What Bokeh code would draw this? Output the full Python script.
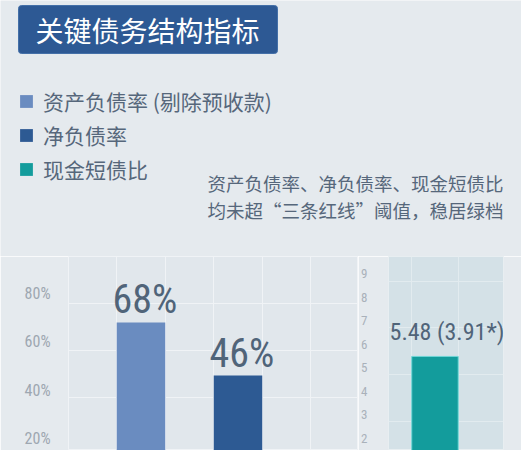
import numpy as np
from bokeh.plotting import figure
from bokeh.models import (Range1d, FixedTicker, PrintfTickFormatter, Label,
                          Legend, LegendItem, ColumnDataSource)
from bokeh.layouts import column, row
from bokeh.core.properties import value
from bokeh.embed import file_html
from bokeh.resources import INLINE

# ---------------- data ----------------
title_text = "关键债务结构指标"
metrics = ["资产负债率 (剔除预收款)", "净负债率", "现金短债比"]
metric_values = [68, 46, 5.48]          # % , % , times
cash_ratio_adjusted = 3.91              # value in brackets
pct_ticks = [20, 40, 60, 80]
ratio_ticks = [1, 2, 3, 4, 5, 6, 7, 8, 9]
note_lines = ["资产负债率、净负债率、现金短债比",
              "均未超“三条红线”阈值，稳居绿档"]

# ---------------- styles ----------------
colors = ["#6a8cc0", "#2d5a93", "#139c9c"]
page_bg = "#e5eaee"
panel_bg = "#e1e7ec"
right_panel_bg = "#d4e1e7"
grid_col = "#f0f3f6"
text_col = "#56677b"
value_col = "#506479"
tick_col = "#9ea7b1"
cjk = "Noto Sans CJK SC"
num_font = "Roboto Condensed"

# ---------------- header ----------------
header = figure(width=521, height=256, x_range=Range1d(0, 1), y_range=Range1d(0, 1),
                toolbar_location=None, output_backend="svg",
                x_axis_location=None, y_axis_location=None, min_border=0)
header.grid.visible = False
header.outline_line_color = None
header.background_fill_color = page_bg
header.border_fill_color = page_bg

header.add_layout(Label(x=18, y=227, x_units="screen", y_units="screen",
                        text=title_text, text_font=cjk, text_font_size="28px",
                        text_font_style="normal", text_color="white",
                        text_align="left", text_baseline="middle",
                        background_fill_color="#2d5994",
                        border_line_color="#4470a8", border_line_width=1,
                        padding=dict(left=17, right=18, top=4, bottom=4),
                        border_radius=3))

items = []
for m, c in zip(metrics, colors):
    r = header.vbar(x=[-10], top=[-10], width=1, fill_color=c, line_color=None)
    items.append(LegendItem(label=m, renderers=[r]))
legend = Legend(items=items, location=(18, 72), padding=0, margin=0,
                glyph_width=16, glyph_height=16, label_standoff=9,
                spacing=4, label_height=25,
                label_text_font=cjk, label_text_font_size="21px",
                label_text_color=text_col,
                background_fill_alpha=0, border_line_alpha=0)
header.add_layout(legend)

for i, line in enumerate(note_lines):
    header.add_layout(Label(x=503, y=74 - 27 * i, x_units="screen", y_units="screen",
                            text=line, text_font=cjk, text_font_size="18.5px",
                            text_color=text_col, text_align="right",
                            text_baseline="middle"))

# ---------------- left chart (percent) ----------------
left = figure(width=358, height=194, x_range=Range1d(-0.747, 2.242),
              y_range=Range1d(15.0, 95.3), toolbar_location=None,
              output_backend="svg", x_axis_location=None,
              min_border_left=68, min_border_right=0, min_border_top=0,
              min_border_bottom=0)
left.background_fill_color = panel_bg
left.border_fill_color = page_bg
left.outline_line_color = grid_col

lx = np.arange(2)
lsrc = ColumnDataSource(dict(x=lx, top=metric_values[:2], color=colors[:2],
                             label=[f"{v:g}%" for v in metric_values[:2]]))
left.vbar(x="x", top="top", bottom=0, width=0.5, fill_color="color",
          line_color=None, source=lsrc)
left.text(x="x", y="top", text="label", source=lsrc, text_font=value(num_font),
          text_font_size="40px", text_color=value_col, text_align="center",
          text_baseline="bottom", y_offset=1, x_offset=4)

ax = left.yaxis[0]
ax.ticker = FixedTicker(ticks=pct_ticks)
ax.formatter = PrintfTickFormatter(format="%d%%")
ax.axis_line_color = None
ax.major_tick_line_color = None
ax.minor_tick_line_color = None
ax.major_label_standoff = 12
ax.major_label_text_font = num_font
ax.major_label_text_font_size = "16px"
ax.major_label_text_color = tick_col
left.xgrid.ticker = FixedTicker(ticks=[-0.25, 0.25, 0.75, 1.25, 1.75])
left.ygrid.ticker = FixedTicker(ticks=[37, 56.5, 76])
left.grid.grid_line_color = grid_col
left.grid.grid_line_width = 1

# ---------------- right chart (times) ----------------
right = figure(width=163, height=194, x_range=Range1d(-0.5, 0.737),
               y_range=Range1d(1.49, 9.72), toolbar_location=None,
               output_backend="svg", x_axis_location=None,
               min_border_left=25, min_border_right=18, min_border_top=0,
               min_border_bottom=0)
right.background_fill_color = right_panel_bg
right.border_fill_color = page_bg
right.outline_line_color = "#e8eef1"

rsrc = ColumnDataSource(dict(x=[0], top=[metric_values[2]],
                             label=[f"{metric_values[2]:.2f} ({cash_ratio_adjusted:.2f}*)"]))
right.vbar(x="x", top="top", bottom=0, width=0.5, fill_color=colors[2],
           line_color="#6fd6d6", line_width=1, source=rsrc)
right.text(x="x", y="top", text="label", source=rsrc,
           text_font=value(num_font),
           text_font_size="24px", text_color=value_col, text_align="center",
           text_baseline="bottom", y_offset=-10, x_offset=12)

ay = right.yaxis[0]
ay.ticker = FixedTicker(ticks=ratio_ticks)
ay.axis_line_color = None
ay.major_tick_line_color = None
ay.minor_tick_line_color = None
ay.major_label_standoff = 15
ay.major_label_text_font = num_font
ay.major_label_text_font_size = "13px"
ay.major_label_text_color = "#a9b1ba"
right.xgrid.ticker = FixedTicker(ticks=[-0.25, 0.25])
right.ygrid.ticker = FixedTicker(ticks=[2.7, 4.7, 6.7, 8.65])
right.grid.grid_line_color = "#e2ebef"

layout = column(header, row(left, right))
open("out.html", "w").write(file_html(layout, INLINE))
